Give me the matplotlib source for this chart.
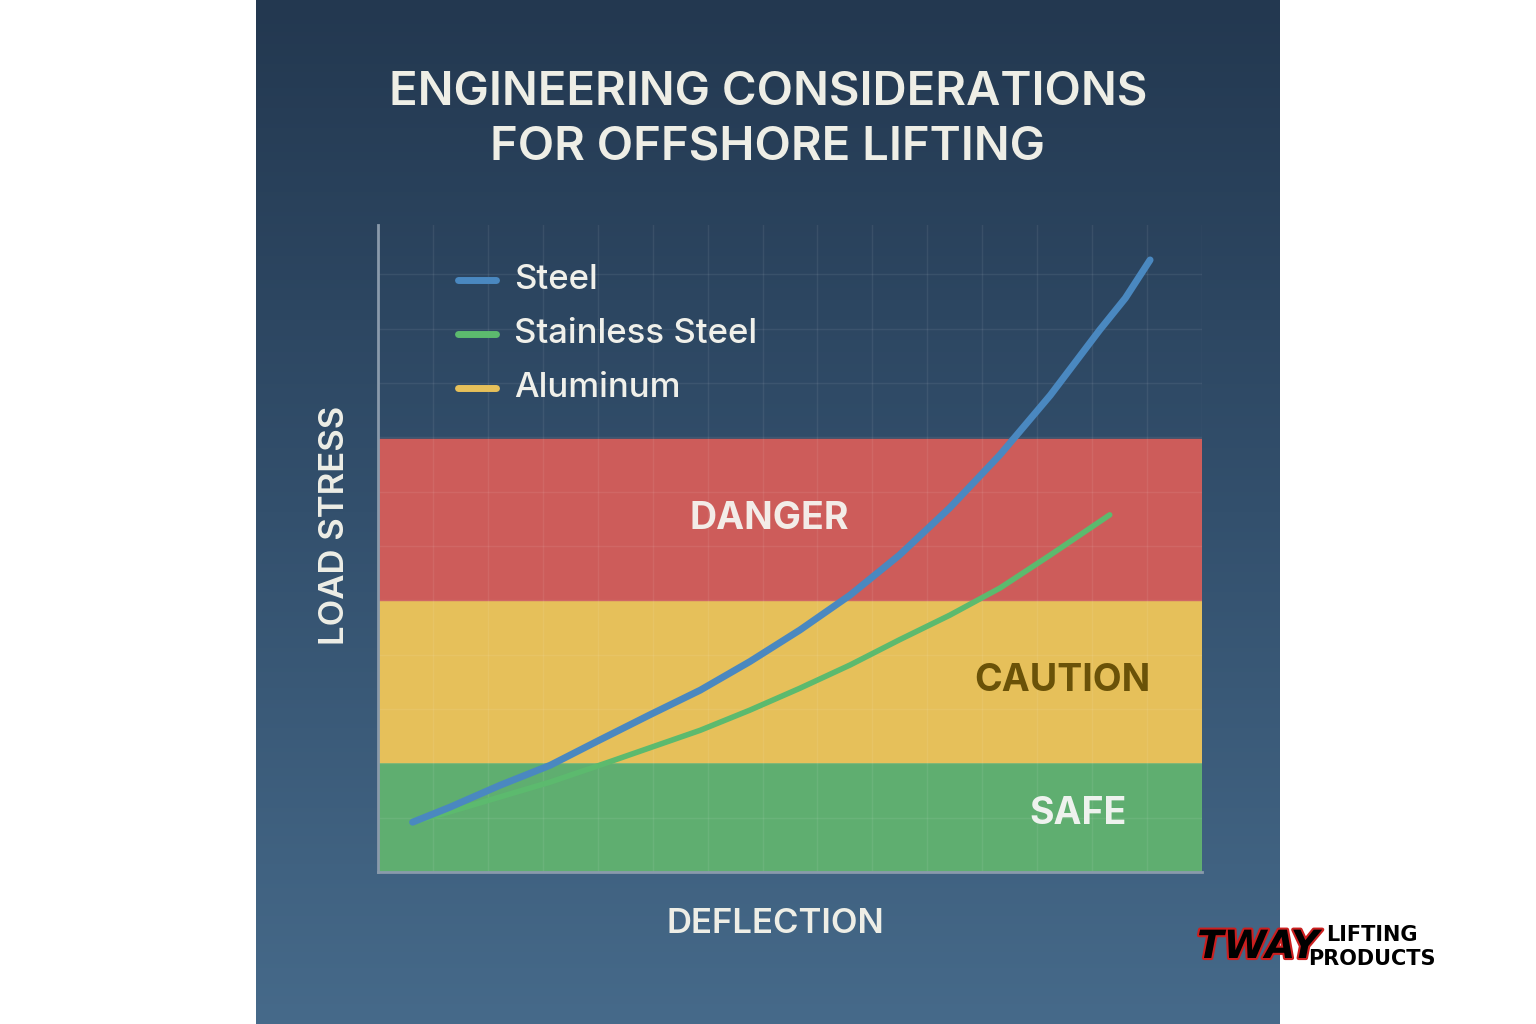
import numpy as np
import matplotlib
matplotlib.use("Agg")
import matplotlib.pyplot as plt
import matplotlib.patheffects as pe
from matplotlib.colors import LinearSegmentedColormap

title = "ENGINEERING CONSIDERATIONS\nFOR OFFSHORE LIFTING"
steel_x = [0.42, 0.87, 1.48, 2.09, 2.69, 3.30, 3.91, 4.51, 5.12, 5.73, 6.33, 6.94, 7.55, 8.16, 8.76, 9.07, 9.37]
steel_y = [7.7, 10.0, 13.4, 16.5, 20.4, 24.3, 28.1, 32.5, 37.4, 42.8, 49.0, 56.3, 64.5, 73.7, 83.8, 88.7, 94.6]
ss_x = [0.42, 0.87, 1.48, 2.09, 2.69, 3.30, 3.91, 4.51, 5.12, 5.73, 6.33, 6.94, 7.55, 8.16, 8.88]
ss_y = [7.7, 9.3, 11.6, 13.9, 16.5, 19.2, 21.9, 25.0, 28.4, 32.0, 35.9, 39.7, 43.9, 49.0, 55.2]
zones = ["SAFE", "CAUTION", "DANGER"]
zone_bounds = [0, 17, 42, 67]
zone_colors = ["#5fae70", "#e6c05a", "#cd5c5a"]
zone_text_colors = ["#eef2ee", "#6a5208", "#f3ece8"]
zone_text_pos = [(8.5, 9), (8.3, 29.5), (4.75, 54.5)]

W, H = 1536, 1024
fig = plt.figure(figsize=(W/100, H/100), dpi=100)
fig.patch.set_facecolor("white")
bg = fig.add_axes([256/W, 0, 1024/W, 1])
grad = np.linspace(0, 1, 256).reshape(-1, 1)
cm = LinearSegmentedColormap.from_list("g", ["#233850", "#33506d", "#466a8a"])
bg.imshow(grad, aspect="auto", cmap=cm, extent=[0, 1, 0, 1], origin="upper")
bg.axis("off")

ax = fig.add_axes([378/W, 1-872/H, (1202-378)/W, (872-225)/H])
ax.set_xlim(0, 10); ax.set_ylim(0, 100)
ax.patch.set_alpha(0)
for i in range(3):
    ax.axhspan(zone_bounds[i], zone_bounds[i+1], color=zone_colors[i], zorder=1)
    ax.text(*zone_text_pos[i], zones[i], color=zone_text_colors[i], fontsize=27,
            fontweight="bold", ha="center", va="center", zorder=2, family="Inter")
for xv in np.linspace(0, 10, 16)[1:]:
    ax.axvline(xv, color="white", alpha=0.07, lw=1, zorder=1.5)
for yv in np.arange(0, 100, 8.4)[1:]:
    ax.axhline(yv, color="white", alpha=0.07, lw=1, zorder=1.5)
ax.plot(steel_x, steel_y, color="#4a88c0", lw=5, solid_capstyle="round", solid_joinstyle="round", zorder=4)
ax.plot(ss_x, ss_y, color="#5cba6e", lw=4, solid_capstyle="round", solid_joinstyle="round", zorder=3)
for s in ["top", "right"]:
    ax.spines[s].set_visible(False)
for s in ["left", "bottom"]:
    ax.spines[s].set_color("#8a9aab"); ax.spines[s].set_linewidth(2)
ax.set_xticks([]); ax.set_yticks([])

leg = [("Steel", "#4a88c0", 280), ("Stainless Steel", "#5cba6e", 334), ("Aluminum", "#e6c05a", 388)]
for name, c, py in leg:
    fig.add_artist(plt.Line2D([458/W, 496/W], [1-py/H, 1-py/H], color=c, lw=5, solid_capstyle="round"))
    fig.text(514/W, 1-py/H, name, color="#f0f0ea", fontsize=25, va="center", family="Inter", fontweight="medium")

fig.text(768/W, 1-120/H, title, color="#eeeee6", fontsize=34, ha="center", va="center",
         fontweight="semibold", family="Inter", linespacing=1.35)
fig.text(335/W, 1-525/H, "LOAD STRESS", color="#eeeee6", fontsize=25, rotation=90,
         ha="center", va="center", family="Inter", fontweight="semibold")
fig.text(775/W, 1-924/H, "DEFLECTION", color="#eeeee6", fontsize=25,
         ha="center", va="center", family="Inter", fontweight="semibold")

fig.text(1258/W, 1-947/H, "TWAY", color="black", fontsize=28, style="italic", fontweight="black",
         ha="center", va="center", family="DejaVu Sans",
         path_effects=[pe.withStroke(linewidth=3, foreground="#cc1f1f")])
fig.text(1372/W, 1-935/H, "LIFTING", color="black", fontsize=15, fontweight="bold", ha="center", va="center")
fig.text(1372/W, 1-959/H, "PRODUCTS", color="black", fontsize=15, fontweight="bold", ha="center", va="center")

fig.savefig("out.png", dpi=100)
